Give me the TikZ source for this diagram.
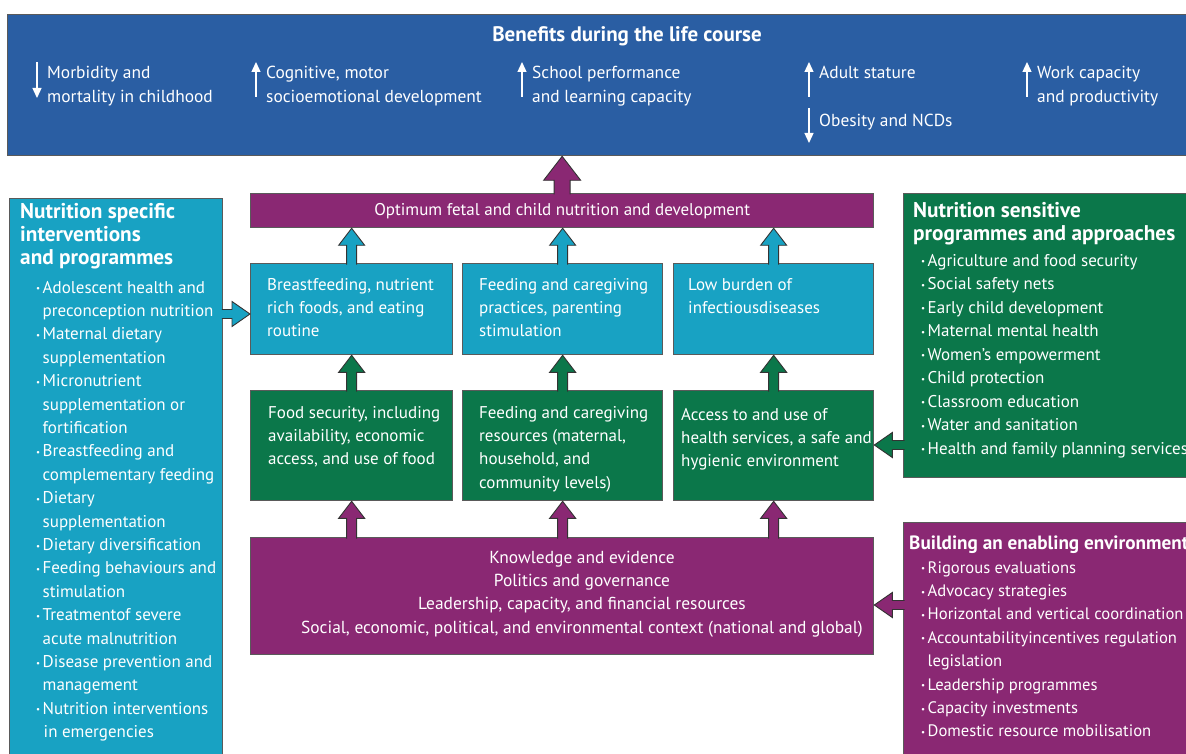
\documentclass[tikz,border=0pt]{standalone}
\usepackage{fontspec}
\setmainfont{PT Sans}
\usetikzlibrary{arrows.meta,calc}
\definecolor{bannerblue}{HTML}{2A5EA3}
\definecolor{tealc}{HTML}{18A2C3}
\definecolor{purp}{HTML}{8A2873}
\definecolor{grn}{HTML}{0B774A}
\definecolor{edgec}{HTML}{5A5A5A}
\definecolor{arredge}{HTML}{333333}
% block arrow: #1 fill, #2 start, #3 tip, #4 shaft width, #5 head width, #6 head length
\newcommand\blockarr[6]{%
 \fill[#1] let \p1=(#2), \p2=(#3), \n1={veclen(\x2-\x1,\y2-\y1)}, \n2={atan2(\y2-\y1,\x2-\x1)} in
  [shift={(\p1)}, rotate=\n2] (0,-#4/2) -- (\n1-#6,-#4/2) -- (\n1-#6,-#5/2) -- (\n1,0) -- (\n1-#6,#5/2) -- (\n1-#6,#4/2) -- (0,#4/2) -- cycle;
 \draw[arrline] let \p1=(#2), \p2=(#3), \n1={veclen(\x2-\x1,\y2-\y1)}, \n2={atan2(\y2-\y1,\x2-\x1)} in
  [shift={(\p1)}, rotate=\n2] (0,-#4/2) -- (\n1-#6,-#4/2) -- (\n1-#6,-#5/2) -- (\n1,0) -- (\n1-#6,#5/2) -- (\n1-#6,#4/2) -- (0,#4/2);
}
\newcommand\bitem{\makebox[6.5pt][l]{\raisebox{0.15ex}{\fontsize{9}{9}\selectfont •}}}
\newcommand\bcont{\hspace*{6.5pt}}
\begin{document}
\begin{tikzpicture}[x=1pt,y=-1pt,
  box/.style={draw=edgec, line width=1.3pt, inner sep=0pt, anchor=north west},
  arrline/.style={draw=arredge, line width=0.9pt, line join=miter},
  txt/.style={text=white, inner sep=0pt, align=left, anchor=base west, font=\fontsize{17}{23.4}\selectfont},
  ttl/.style={text=white, inner sep=0pt, align=left, anchor=base west, font=\bfseries\fontsize{21.3}{23.5}\selectfont},
  small/.style={white, line width=1.3pt, -{Triangle[length=10pt,width=9pt]}}
]
\useasboundingbox (0,0) rectangle (1186,754);
\fill[white] (0,0) rectangle (1186,754);

% banner
\node[box, fill=bannerblue, minimum width=1200, minimum height=141] (ban) at (7,14) {};
\node[text=white, inner sep=0pt, font=\bfseries\fontsize{21}{23}\selectfont] (bt) at (627,36) {Benefits during the life course};
\draw[small] (37,62) -- (37,98);
\node[txt, font=\fontsize{17.4}{24}\selectfont] (t1) at (47,103) {Morbidity and\\mortality in childhood};
\draw[small] (256,97) -- (256,62);
\node[txt, font=\fontsize{17.4}{24}\selectfont] (t2) at (266,103) {Cognitive, motor\\socioemotional development};
\draw[small] (522,97) -- (522,62);
\node[txt, font=\fontsize{17.4}{24}\selectfont] (t3) at (532,103) {School performance\\and learning capacity};
\draw[small] (809,97) -- (809,62);
\node[txt, font=\fontsize{17.4}{24}\selectfont] (t4) at (819,79) {Adult stature};
\draw[small] (809,108) -- (809,143);
\node[txt, font=\fontsize{17.4}{24}\selectfont] (t5) at (819,127) {Obesity and NCDs};
\draw[small] (1027,97) -- (1027,62);
\node[txt, font=\fontsize{17.4}{24}\selectfont] (t6) at (1037,103) {Work capacity\\and productivity};

% central boxes
\node[box, fill=purp, minimum width=623, minimum height=34] (opt) at (250,193) {};
\node[text=white, inner sep=0pt, font=\fontsize{17}{20}\selectfont] (optt) at (opt.center) {Optimum fetal and child nutrition and development};

\node[box, fill=tealc, minimum width=202, minimum height=91] (b1) at (250,263) {};
\node[box, fill=tealc, minimum width=200, minimum height=91] (b2) at (462,263) {};
\node[box, fill=tealc, minimum width=200, minimum height=91] (b3) at (673,263) {};
\node[txt] (b1t) at (267,336.8) {Breastfeeding, nutrient\\rich foods, and eating\\routine};
\node[txt] (b2t) at (479,336.8) {Feeding and caregiving\\practices, parenting\\stimulation};
\node[txt] (b3t) at (688,313.4) {Low burden of\\infectiousdiseases};

\node[box, fill=grn, minimum width=202, minimum height=110] (g1) at (250,390) {};
\node[box, fill=grn, minimum width=200, minimum height=110] (g2) at (462,390) {};
\node[box, fill=grn, minimum width=200, minimum height=110] (g3) at (673,390) {};
\node[txt] (g1t) at (268,464.8) {Food security, including\\availability, economic\\access, and use of food};
\node[txt] (g2t) at (479,488.2) {Feeding and caregiving\\resources (maternal,\\household, and\\community levels)};
\node[txt] (g3t) at (681,466.8) {Access to and use of\\health services, a safe and\\hygienic environment};

\node[box, fill=purp, minimum width=623, minimum height=117] (env) at (250,537) {};
\node[text=white, inner sep=0pt, align=center, anchor=base, font=\fontsize{17.4}{23.4}\selectfont] (envt) at (582,633.2) {Knowledge and evidence\\Politics and governance\\Leadership, capacity, and financial resources\\Social, economic, political, and environmental context (national and global)};

% left panel
\node[box, fill=tealc, minimum width=213, minimum height=570] (lp) at (9,198) {};
\node[ttl] (lpt) at (20,265) {Nutrition specific\\interventions\\and programmes};
\node[txt] (lpl) at (36,737.6) {\bitem Adolescent health and\\
\bcont preconception nutrition\\
\bitem Maternal dietary\\
\bcont supplementation\\
\bitem Micronutrient\\
\bcont supplementation or\\
\bcont fortification\\
\bitem Breastfeeding and\\
\bcont complementary feeding\\
\bitem Dietary\\
\bcont supplementation\\
\bitem Dietary diversification\\
\bitem Feeding behaviours and\\
\bcont stimulation\\
\bitem Treatmentof severe\\
\bcont acute malnutrition\\
\bitem Disease prevention and\\
\bcont management\\
\bitem Nutrition interventions\\
\bcont\hspace*{1pt}in emergencies};

% right green panel
\node[box, fill=grn, minimum width=300, minimum height=284] (rg) at (903,193) {};
\node[ttl] (rgt) at (913,240.5) {Nutrition sensitive\\programmes and approaches};
\node[txt, font=\fontsize{17}{23.5}\selectfont] (rgl) at (921,454) {\bitem Agriculture and food security\\
\bitem Social safety nets\\
\bitem Early child development\\
\bitem Maternal mental health\\
\bitem Women’s empowerment\\
\bitem Child protection\\
\bitem Classroom education\\
\bitem Water and sanitation\\
\bitem Health and family planning services};

% right purple panel
\node[box, fill=purp, minimum width=300, minimum height=250] (rp) at (903,522) {};
\node[ttl, font=\bfseries\fontsize{19.2}{23.5}\selectfont] (rpt) at (909,549) {Building an enabling environment};
\node[txt, font=\fontsize{16.6}{23.4}\selectfont] (rpl) at (921,736.8) {\bitem Rigorous evaluations\\
\bitem Advocacy strategies\\
\bitem Horizontal and vertical coordination\\
\bitem Accountabilityincentives regulation\\
\bcont legislation\\
\bitem Leadership programmes\\
\bitem Capacity investments\\
\bitem Domestic resource mobilisation};

% connectors
\blockarr{purp}{$(opt.north)+(0,1.5)$}{opt.north |- ban.south}{16}{37}{24}
\blockarr{tealc}{$(b1.north)+(0,1.5)$}{b1.north |- opt.south}{10}{26}{17}
\blockarr{tealc}{$(b2.north)+(0,1.5)$}{b2.north |- opt.south}{10}{26}{17}
\blockarr{tealc}{$(b3.north)+(0,1.5)$}{b3.north |- opt.south}{10}{26}{17}
\blockarr{grn}{$(g1.north)+(0,1.5)$}{g1.north |- b1.south}{10}{26}{17}
\blockarr{grn}{$(g2.north)+(0,1.5)$}{g2.north |- b2.south}{10}{26}{17}
\blockarr{grn}{$(g3.north)+(0,1.5)$}{g3.north |- b3.south}{10}{26}{17}
\blockarr{purp}{$(env.north -| g1.north)+(0,1.5)$}{g1.south}{10}{26}{17}
\blockarr{purp}{$(env.north -| g2.north)+(0,1.5)$}{g2.south}{10}{26}{17}
\blockarr{purp}{$(env.north -| g3.north)+(0,1.5)$}{g3.south}{10}{26}{17}
\coordinate (lpA) at ($(lp.north east)+(-1.5,116)$);
\blockarr{tealc}{lpA}{b1.west |- lpA}{9}{25}{18}
\coordinate (rgA) at ($(rg.north west)+(1.5,252)$);
\blockarr{grn}{rgA}{g3.east |- rgA}{9}{25}{18}
\coordinate (rpA) at ($(rp.north west)+(1.5,83)$);
\blockarr{purp}{rpA}{env.east |- rpA}{9}{25}{18}
\end{tikzpicture}
\end{document}
